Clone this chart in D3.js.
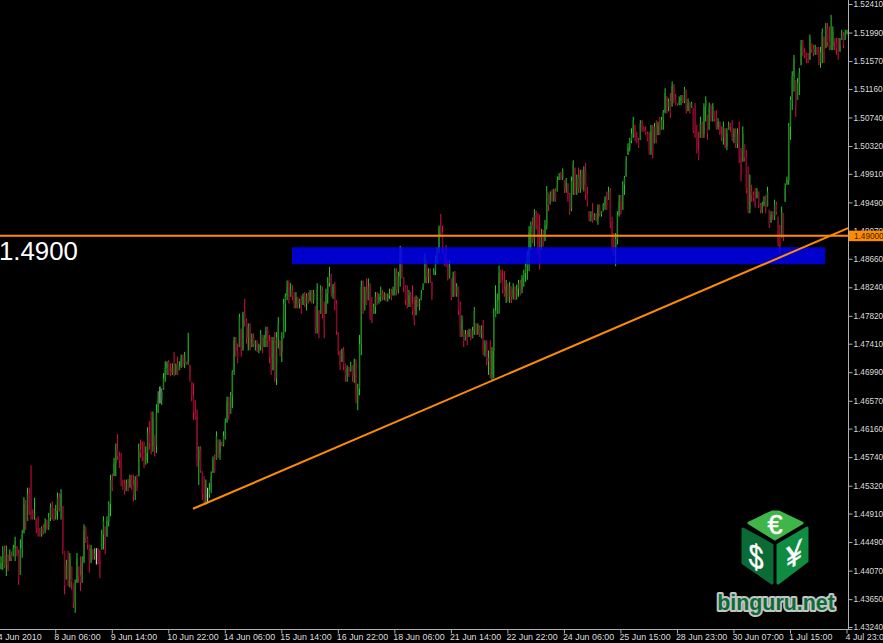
<!DOCTYPE html>
<html><head><meta charset="utf-8">
<script src="https://cdn.jsdelivr.net/npm/d3@7"></script>
<style>html,body{margin:0;padding:0;background:#000;overflow:hidden}svg{display:block}</style>
</head><body><svg id="c" width="883" height="643"></svg>
<script>
// Hourly prices, in pips (1.4900 = 14900)
const highs=[14428,14443,14444,14444,14431,14438,14435,14445,14457,14443,
14438,14453,14467,14515,14511,14529,14529,14562,14497,14514,
14484,14487,14470,14472,14475,14484,14482,14492,14506,14509,
14499,14504,14522,14521,14527,14502,14436,14423,14436,14433,
14413,14389,14394,14433,14413,14428,14428,14475,14472,14457,
14445,14445,14438,14440,14440,14440,14438,14467,14487,14472,
14487,14509,14548,14550,14573,14594,14608,14582,14580,14541,
14541,14541,14542,14548,14548,14548,14546,14548,14594,14600,
14597,14597,14590,14618,14627,14641,14641,14607,14652,14671,
14678,14675,14698,14715,14715,14717,14712,14712,14729,14712,
14722,14715,14725,14725,14729,14715,14757,14710,14685,14683,
14658,14644,14590,14590,14553,14546,14541,14529,14536,14553,
14575,14578,14612,14600,14600,14597,14612,14631,14663,14663,
14670,14702,14751,14751,14741,14785,14763,14788,14807,14778,
14771,14771,14756,14756,14746,14746,14741,14761,14754,14754,
14766,14766,14754,14751,14751,14758,14758,14780,14746,14758,
14807,14815,14834,14834,14830,14827,14817,14817,14810,14807,
14812,14815,14817,14815,14817,14820,14820,14820,14796,14830,
14790,14827,14825,14803,14822,14839,14854,14844,14829,14832,
14805,14758,14731,14734,14736,14712,14709,14707,14714,14709,
14719,14718,14682,14754,14834,14834,14825,14837,14837,14830,
14810,14800,14817,14817,14815,14825,14820,14817,14815,14815,
14822,14822,14825,14852,14852,14847,14885,14883,14839,14827,
14827,14820,14817,14827,14810,14812,14810,14807,14820,14830,
14874,14864,14852,14852,14832,14852,14871,14883,14915,14932,
14915,14876,14886,14864,14864,14837,14847,14848,14830,14825,
14803,14783,14761,14761,14761,14763,14763,14766,14795,14771,
14771,14768,14768,14776,14746,14746,14731,14746,14736,14793,
14827,14815,14856,14850,14850,14848,14835,14830,14832,14825,
14830,14825,14828,14835,14835,14842,14850,14860,14877,14914,
14921,14927,14939,14937,14933,14931,14910,14909,14923,14973,
14963,14965,14968,14969,14970,14987,14992,14994,14999,14982,
14985,14977,14963,14987,15011,15000,14990,15000,14997,14997,
15002,15007,14972,14936,14936,14948,14933,14933,14946,14946,
14936,14948,14958,14965,14972,14970,14928,14904,14904,14936,
14960,14960,14980,14988,15017,15036,15044,15058,15075,15063,
15053,15044,15070,15070,15061,15061,15053,15053,15063,15063,
15066,15070,15068,15075,15075,15085,15117,15105,15102,15110,
15127,15123,15109,15095,15105,15107,15107,15119,15115,15102,
15097,15097,15088,15095,15063,15053,15075,15068,15095,15105,
15078,15096,15093,15095,15083,15085,15073,15068,15061,15068,
15058,15058,15068,15066,15070,15058,15058,15058,15068,15029,
15061,15035,15026,15002,14990,14975,14965,14970,14970,14965,
14948,14950,14958,14960,14972,14938,14936,14936,14953,14950,
14928,14916,14943,14933,14977,14987,15066,15105,15142,15166,
15129,15132,15147,15188,15188,15176,15169,15169,15196,15183,
15181,15181,15178,15178,15178,15205,15193,15213,15213,15208,
15225,15208,15191,15191,15191,15191,15203,15200,15203,15203];
const lows=[14409,14408,14411,14399,14406,14421,14421,14428,14421,14428,
14386,14401,14426,14462,14467,14480,14489,14482,14482,14482,
14462,14457,14457,14457,14460,14462,14467,14467,14480,14482,
14480,14482,14482,14494,14482,14431,14372,14394,14384,14382,
14379,14352,14345,14389,14389,14377,14389,14418,14448,14438,
14404,14418,14423,14423,14416,14416,14396,14438,14438,14431,
14457,14472,14487,14524,14546,14546,14570,14558,14531,14526,
14519,14524,14524,14529,14526,14509,14511,14524,14546,14573,
14568,14558,14563,14565,14585,14578,14582,14575,14580,14639,
14653,14651,14673,14685,14695,14695,14693,14695,14693,14695,
14695,14702,14705,14707,14705,14710,14710,14685,14656,14629,
14629,14560,14533,14551,14511,14506,14504,14506,14514,14521,
14551,14551,14570,14573,14570,14590,14590,14600,14625,14629,
14638,14646,14695,14722,14712,14736,14722,14731,14766,14741,
14731,14731,14736,14736,14731,14729,14727,14731,14727,14736,
14736,14736,14712,14695,14702,14685,14680,14734,14722,14714,
14749,14758,14805,14800,14810,14805,14793,14793,14793,14793,
14785,14798,14795,14790,14800,14803,14800,14800,14756,14756,
14749,14785,14778,14749,14785,14800,14825,14810,14807,14790,
14754,14724,14702,14714,14702,14685,14685,14692,14700,14685,
14683,14653,14643,14665,14724,14785,14790,14798,14805,14776,
14771,14785,14785,14798,14800,14803,14805,14805,14803,14803,
14807,14805,14812,14812,14812,14815,14825,14837,14817,14798,
14793,14795,14795,14783,14768,14783,14795,14790,14805,14820,
14830,14830,14830,14830,14805,14842,14842,14859,14874,14898,
14874,14856,14854,14834,14837,14805,14810,14810,14810,14783,
14751,14751,14736,14746,14739,14751,14746,14749,14754,14754,
14754,14751,14749,14724,14722,14709,14695,14690,14687,14690,
14780,14785,14785,14830,14815,14810,14801,14803,14801,14801,
14806,14805,14806,14810,14812,14815,14825,14832,14835,14848,
14879,14889,14884,14909,14870,14850,14879,14884,14892,14909,
14936,14946,14950,14950,14950,14965,14982,14982,14982,14963,
14963,14950,14931,14936,14960,14960,14960,14963,14963,14968,
14965,14953,14943,14921,14921,14919,14923,14921,14916,14928,
14928,14936,14938,14938,14953,14911,14877,14870,14855,14887,
14928,14931,14938,14960,14987,15019,15024,15036,15044,15039,
15036,15029,15041,15053,15053,15048,15039,15019,15019,15014,
15036,15036,15048,15048,15056,15056,15080,15080,15083,15073,
15090,15095,15092,15091,15092,15092,15095,15095,15080,15083,
15080,15088,15051,15044,15021,15011,15044,15044,15044,15068,
15041,15056,15068,15068,15068,15056,15056,15048,15039,15034,
15029,15026,15056,15053,15039,15036,15029,15029,15007,14980,
15009,15009,14962,14933,14933,14950,14950,14941,14955,14941,
14933,14933,14943,14933,14943,14911,14919,14923,14923,14931,
14884,14872,14897,14892,14950,14975,14975,15041,15085,15112,
15075,15100,15107,15151,15164,15161,15154,15154,15159,15169,
15164,15166,15166,15151,15147,15154,15154,15176,15178,15173,
15173,15173,15173,15166,15159,15171,15188,15176,15188,15196];
const closes=[14418,14435,14415,14430,14410,14430,14425,14440,14450,14432,
14395,14440,14460,14505,14480,14520,14495,14490,14487,14490,
14470,14465,14460,14470,14465,14478,14470,14485,14500,14490,
14488,14495,14515,14500,14520,14440,14385,14415,14395,14425,
14390,14360,14385,14425,14400,14390,14420,14465,14455,14445,
14420,14440,14428,14432,14432,14425,14410,14460,14480,14445,
14480,14505,14540,14530,14565,14585,14575,14570,14540,14535,
14525,14535,14530,14540,14532,14520,14540,14530,14585,14580,
14575,14570,14580,14610,14595,14590,14630,14590,14640,14660,
14660,14670,14690,14705,14712,14700,14698,14705,14700,14710,
14700,14708,14720,14712,14722,14712,14715,14690,14665,14640,
14635,14570,14585,14555,14520,14515,14520,14520,14525,14545,
14570,14555,14605,14580,14595,14592,14605,14625,14655,14635,
14665,14700,14745,14730,14720,14780,14730,14785,14775,14750,
14765,14735,14750,14740,14742,14735,14738,14755,14735,14750,
14760,14745,14720,14700,14745,14690,14750,14770,14730,14750,
14800,14812,14825,14810,14820,14810,14800,14810,14800,14805,
14795,14810,14800,14812,14805,14815,14805,14815,14765,14820,
14760,14820,14785,14765,14815,14830,14840,14815,14825,14800,
14760,14730,14710,14730,14710,14695,14705,14700,14708,14695,
14710,14665,14675,14740,14825,14800,14815,14800,14825,14785,
14780,14795,14810,14805,14810,14815,14810,14812,14808,14812,
14815,14810,14820,14845,14820,14840,14875,14845,14825,14805,
14800,14812,14800,14790,14775,14805,14800,14803,14815,14825,
14865,14840,14845,14840,14812,14848,14865,14880,14912,14905,
14880,14870,14860,14840,14855,14810,14840,14815,14825,14790,
14760,14775,14745,14755,14745,14758,14750,14760,14790,14760,
14765,14755,14762,14730,14740,14715,14720,14695,14730,14780,
14790,14805,14845,14835,14820,14815,14825,14810,14825,14810,
14822,14812,14822,14830,14820,14838,14845,14855,14870,14905,
14915,14895,14930,14915,14880,14860,14900,14890,14915,14965,
14945,14960,14955,14965,14955,14982,14988,14985,14995,14970,
14980,14960,14940,14980,15005,14970,14985,14970,14990,14975,
14995,14960,14950,14928,14930,14925,14930,14925,14940,14932,
14935,14945,14955,14945,14965,14920,14885,14880,14895,14930,
14950,14935,14975,14985,15010,15030,15040,15050,15070,15045,
15040,15032,15065,15058,15055,15050,15042,15025,15055,15025,
15060,15042,15062,15050,15070,15082,15110,15090,15098,15080,
15120,15100,15095,15093,15098,15104,15098,15115,15085,15095,
15085,15095,15055,15050,15025,15015,15065,15050,15090,15100,
15050,15090,15075,15090,15072,15060,15068,15050,15045,15060,
15032,15050,15062,15060,15045,15050,15035,15050,15015,14990,
15050,15015,14970,14940,14965,14960,14955,14945,14965,14945,
14938,14945,14950,14940,14965,14915,14930,14928,14945,14935,
14890,14880,14935,14900,14970,14982,15060,15100,15135,15160,
15090,15125,15140,15180,15170,15165,15160,15158,15190,15175,
15170,15175,15170,15155,15170,15200,15160,15205,15185,15178,
15180,15200,15185,15175,15170,15180,15195,15180,15198,15200];
const priceTicks=[1.5241,1.5199,1.5157,1.5116,1.5074,1.5032,1.4991,1.4949,1.4907,1.4866,1.4824,1.4782,1.4741,1.4699,1.4657,1.4616,1.4574,1.4532,1.4491,1.4449,1.4407,1.4365,1.4324];
const timeBars=[-1,31,63,95,127,159,191,223,255,287,319,351,383,415,447,479];
const timeLabels=["4 Jun 2010","8 Jun 06:00","9 Jun 14:00","10 Jun 22:00","14 Jun 06:00","15 Jun 14:00","16 Jun 22:00","18 Jun 06:00","21 Jun 14:00","22 Jun 22:00","24 Jun 06:00","25 Jun 15:00","28 Jun 23:00","30 Jun 07:00","1 Jul 15:00","4 Jul 23:00"];
const levelPrice=1.49;
const trendBars=[108.7,479.6], trendPrices=[1.4498,1.4911];
const zoneBars=[164.8,466.6], zonePrices=[1.4883,1.4858];

const W=883,H=643,axisX=848.5,axisY=629.5;
const svg=d3.select("#c");
const x=d3.scaleLinear().domain([0,479]).range([1,847]);
const y=d3.scaleLinear().domain([1.4324,1.5241]).range([627,4]);
svg.append("rect").attr("width",W).attr("height",H).attr("fill","#000");

const bars=highs.map((h,i)=>({i,h:h/1e4,l:lows[i]/1e4,o:(i?closes[i-1]:closes[0]-10)/1e4,c:closes[i]/1e4}));
const col=d=>d.c>d.o?["#2ccb2c","#1f7d22"]:d.c<d.o?["#d4123e","#7c0a2a"]:["#e8e8e8","#a0a0a0"];
const g=svg.append("g");
g.selectAll("line").data(bars).join("line")
 .attr("x1",d=>x(d.i)).attr("x2",d=>x(d.i)).attr("y1",d=>y(d.h)).attr("y2",d=>y(d.l))
 .attr("stroke",d=>col(d)[0]).attr("stroke-width",1);
g.selectAll("rect").data(bars).join("rect")
 .attr("x",d=>x(d.i)-0.75).attr("width",1.5)
 .attr("y",d=>y(Math.min(d.h,Math.max(d.o,d.c))))
 .attr("height",d=>Math.abs(y(Math.max(d.l,Math.min(d.o,d.c)))-y(Math.min(d.h,Math.max(d.o,d.c)))))
 .attr("fill",d=>col(d)[1]);

svg.append("rect").attr("x",x(zoneBars[0])).attr("width",x(zoneBars[1])-x(zoneBars[0]))
 .attr("y",y(zonePrices[0])).attr("height",y(zonePrices[1])-y(zonePrices[0]))
 .attr("fill","#0000ff").attr("opacity",0.8);

svg.append("line").attr("x1",0).attr("x2",axisX).attr("y1",y(levelPrice)).attr("y2",y(levelPrice))
 .attr("stroke","#ff8c00").attr("stroke-width",2);
svg.append("line").attr("x1",x(trendBars[0])).attr("x2",x(trendBars[1])).attr("y1",y(trendPrices[0])).attr("y2",y(trendPrices[1]))
 .attr("stroke","#ff8c00").attr("stroke-width",2);
svg.append("text").attr("x",-1).attr("y",260).attr("fill","#fff").attr("font-family","Liberation Sans")
 .attr("font-size",25.8).text("1.4900");

// axes
const axisColor="#b0b0b0";
const yAxis=d3.axisRight(y).tickValues(priceTicks).tickFormat(d3.format(".5f")).tickSize(4).tickPadding(1);
const yG=svg.append("g").attr("transform",`translate(${axisX},0)`).call(yAxis);
yG.select(".domain").remove();
yG.selectAll("line").attr("stroke",axisColor);
yG.selectAll("text").attr("fill","#dcdcdc").attr("font-family","Liberation Sans").attr("font-size",8.2);
svg.append("line").attr("x1",axisX).attr("x2",axisX).attr("y1",0).attr("y2",axisY).attr("stroke",axisColor);
svg.append("line").attr("x1",0).attr("x2",axisX+4).attr("y1",axisY).attr("y2",axisY).attr("stroke",axisColor);
const xT=svg.append("g");
timeBars.forEach((b,i)=>{
  xT.append("line").attr("x1",x(b)).attr("x2",x(b)).attr("y1",axisY).attr("y2",axisY+4).attr("stroke",axisColor);
  xT.append("text").attr("x",x(b)-1.5).attr("y",640).attr("fill","#dcdcdc").attr("font-family","Liberation Sans").attr("font-size",8.9).text(timeLabels[i]);
});
svg.append("rect").attr("x",849).attr("y",y(levelPrice)-5).attr("width",34).attr("height",10.5).attr("fill","#ff8c00");
svg.append("text").attr("x",854).attr("y",y(levelPrice)+3.2).attr("fill","#402000").attr("font-family","Liberation Sans").attr("font-size",8.2).text("1.49000");

// logo
const poly=(pts,f)=>svg.append("polygon").attr("points",pts.map(p=>p.join(",")).join(" ")).attr("fill",f).attr("stroke",f).attr("stroke-width",3).attr("stroke-linejoin","round");
poly([[749,523],[772,512],[779,512],[802,523],[775,539]],"#3fb54a");
poly([[743,529],[772,545],[772,583],[743,563]],"#0a6b36");
poly([[778,545],[807,528],[807,561],[778,583]],"#0f8c42");
const sym=(t,px,py,fs,tr)=>svg.append("text").attr("x",0).attr("y",0).attr("transform",`translate(${px},${py}) ${tr}`).attr("text-anchor","middle")
 .attr("font-family","Liberation Sans").attr("font-size",fs).attr("fill","#fff").attr("stroke","#fff").attr("stroke-width",0.5).text(t);
sym("€",775,534,27,"");
sym("$",756,568,33,"scale(0.8,1) skewY(18)");
sym("¥",794,566,33,"scale(0.85,1) skewY(-28)");
svg.append("text").attr("x",776).attr("y",610).attr("text-anchor","middle").attr("font-family","Liberation Sans").attr("font-weight","bold")
 .attr("font-size",21.4).attr("fill","#0b6b36").attr("stroke","#c4c4c4").attr("stroke-width",4).attr("paint-order","stroke").attr("stroke-linejoin","round").text("binguru.net");
</script></body></html>
